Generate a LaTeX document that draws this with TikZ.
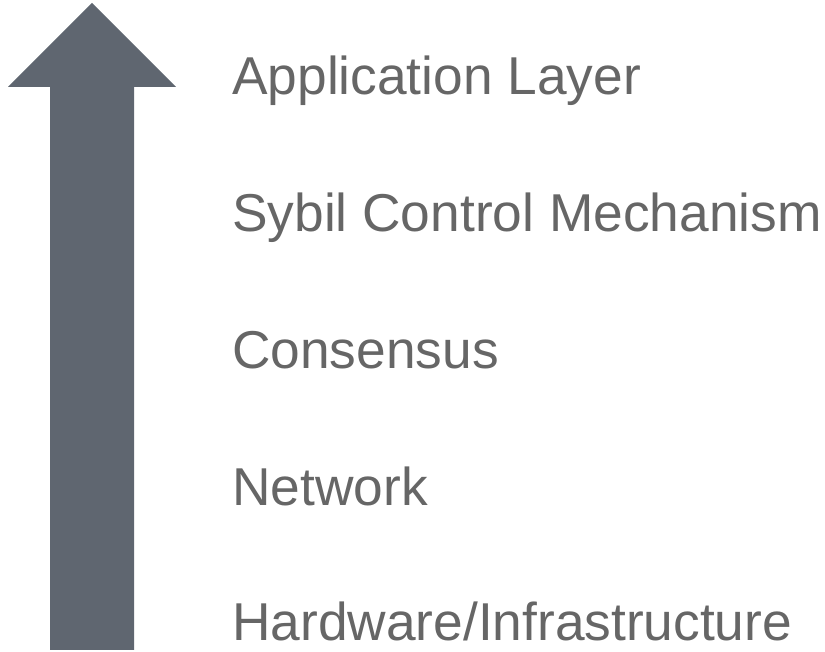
\documentclass[tikz,border=0pt]{standalone}
\usepackage{fontspec}
\setmainfont{Liberation Sans}
\usepackage{tikz}
\definecolor{arrowgray}{HTML}{5F6670}
\definecolor{labelgray}{HTML}{666666}
\tikzset{
  layerarrow/.style={fill=arrowgray, draw=none},
  layer/.style={anchor=base west, inner sep=0pt, text=labelgray, font=\fontsize{53.3}{60}\selectfont},
}

\begin{document}
\begin{tikzpicture}[x=1pt,y=1pt]
  \useasboundingbox (0,0) rectangle (825,652);
  % up arrow (y runs upward, picture height 652)
  \fill[layerarrow] (50,2) -- (50,565) -- (8,565) -- (92,649) -- (176,565)
    -- (134,565) -- (134,2) -- cycle;
  % layer labels, bottom to top
  \node[layer] (hw) at (232,11) {Hardware/Infrastructure};
  \node[layer] (net) at (232,146) {Network};
  \node[layer] (cons) at (232,283) {Consensus};
  \node[layer] (sybil) at (232,420) {Sybil Control Mechanism};
  \node[layer] (app) at (232,557) {Application Layer};
\end{tikzpicture}
\end{document}
